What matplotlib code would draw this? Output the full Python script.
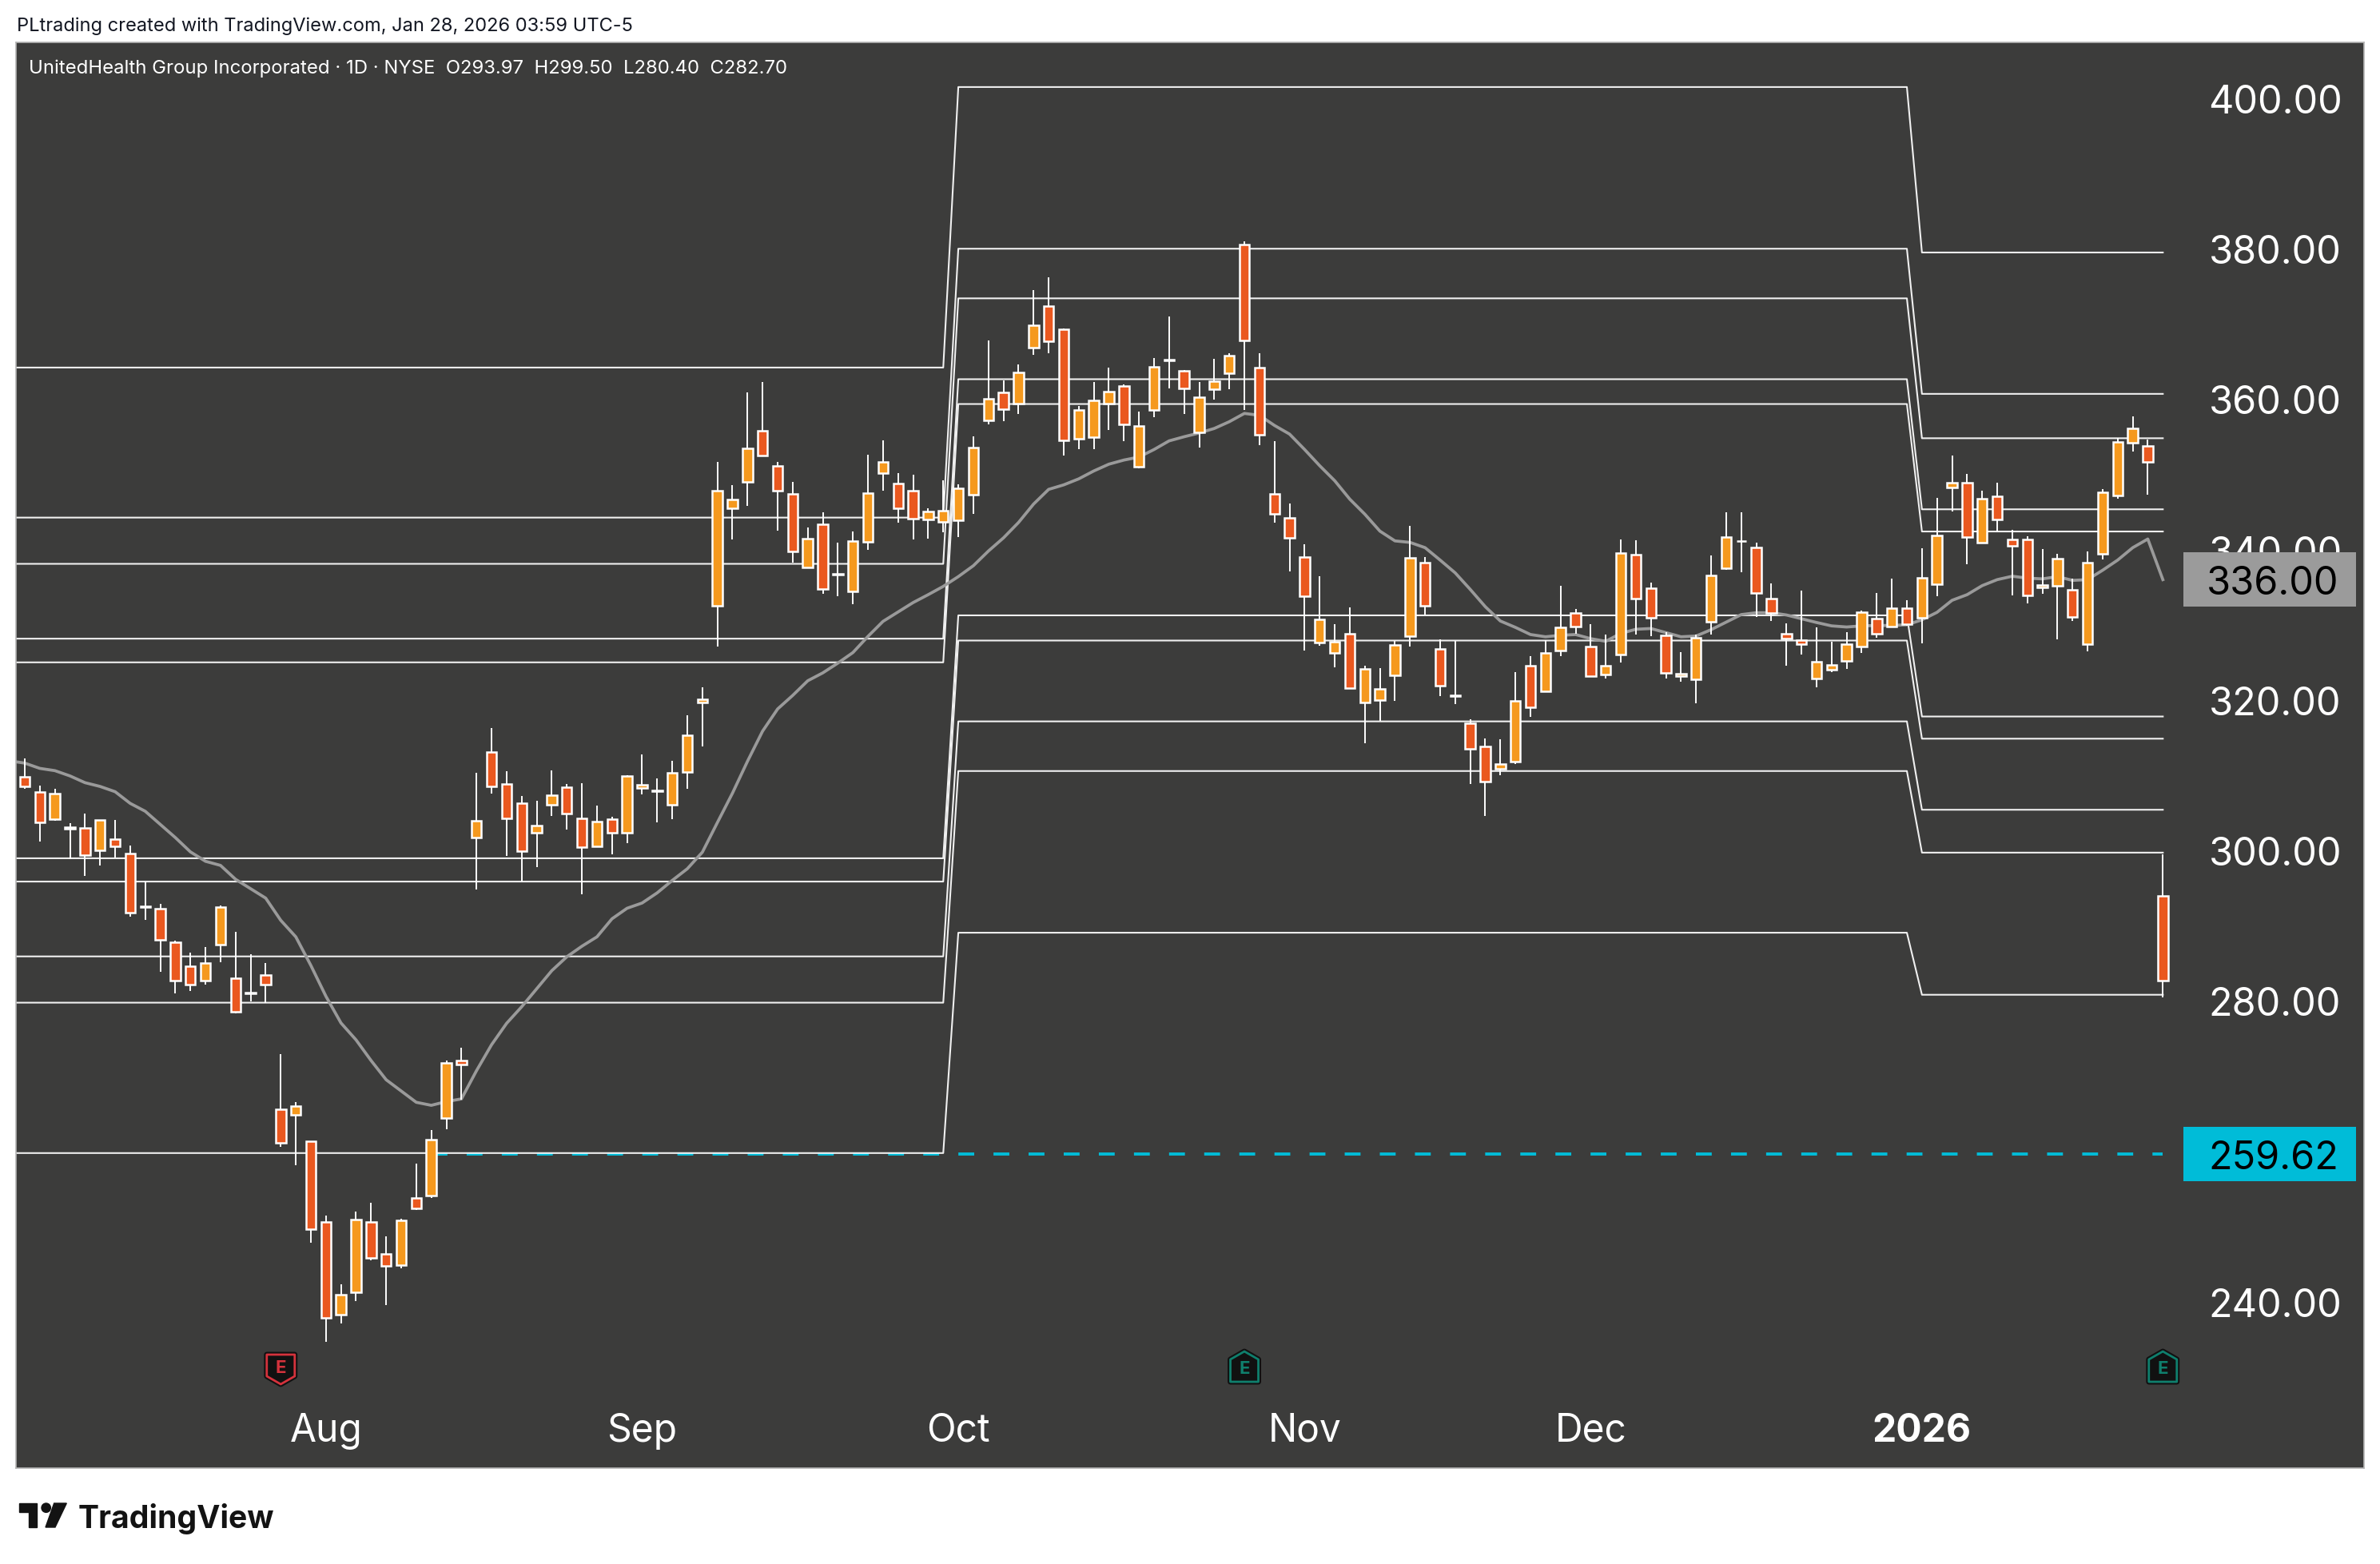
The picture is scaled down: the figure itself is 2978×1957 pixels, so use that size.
import numpy as np
import matplotlib
matplotlib.use('Agg')
import matplotlib.pyplot as plt
from matplotlib.patches import Rectangle, Polygon, Circle
from matplotlib.transforms import blended_transform_factory

plt.rcParams['font.family'] = ['Inter', 'DejaVu Sans']

W, H = 2978, 1958

# daily candles
opens = [309.75, 307.8, 304.2, 303.05, 303.0, 300.0, 301.5, 299.55, 292.6, 292.2,
         287.8, 284.55, 282.7, 287.5, 283.0, 281.1, 283.4, 265.55, 264.8, 261.3,
         250.6, 238.3, 241.25, 250.6, 246.35, 244.85, 253.75, 254.1, 264.4, 272.05,
         301.7, 313.05, 308.85, 306.25, 302.35, 306.05, 308.4, 304.3, 300.55, 304.15,
         302.35, 308.25, 307.9, 306.05, 310.4, 319.65, 332.5, 345.45, 348.95, 355.8,
         351.15, 347.4, 337.65, 343.35, 336.75, 334.45, 341.0, 350.2, 348.75, 347.8,
         344.0, 343.65, 343.9, 347.3, 357.15, 360.9, 359.4, 366.85, 372.35, 369.3,
         354.7, 354.95, 359.4, 361.75, 351.0, 358.55, 365.25, 363.75, 355.55, 361.3,
         363.45, 380.55, 364.2, 347.4, 344.2, 339.0, 327.6, 326.25, 328.8, 319.65,
         319.95, 323.25, 328.45, 338.25, 326.75, 320.65, 316.9, 313.8, 310.85, 311.85,
         324.5, 321.1, 326.55, 331.6, 327.05, 323.35, 326.05, 339.35, 334.9, 328.6,
         323.15, 322.75, 330.35, 337.5, 341.15, 340.3, 333.5, 328.85, 328.0, 322.8,
         324.0, 325.15, 327.15, 330.85, 329.75, 332.25, 330.9, 335.35, 348.3, 348.85,
         340.95, 347.1, 341.35, 341.35, 334.95, 335.15, 334.7, 327.4, 339.45, 347.2,
         354.25, 353.75, 293.97]
highs = [312.2, 308.6, 308.2, 303.6, 304.85, 304.0, 304.0, 300.65, 295.9, 292.9,
         288.0, 286.4, 287.1, 292.7, 289.2, 286.15, 285.0, 272.9, 266.55, 261.35,
         251.45, 242.25, 252.0, 253.15, 248.7, 251.05, 258.4, 262.85, 272.1, 273.8,
         310.35, 316.3, 310.55, 307.2, 306.55, 310.65, 308.8, 308.9, 305.95, 304.45,
         310.0, 312.8, 309.6, 311.9, 318.0, 321.7, 351.65, 348.55, 360.9, 362.3,
         351.65, 348.95, 342.95, 345.0, 340.9, 342.45, 352.65, 354.5, 350.15, 349.9,
         345.5, 349.25, 348.65, 355.05, 367.85, 362.5, 364.65, 374.55, 376.2, 369.35,
         359.05, 362.25, 364.15, 361.95, 358.3, 365.5, 371.0, 363.9, 362.25, 365.35,
         366.15, 381.0, 366.05, 354.45, 346.15, 340.7, 336.45, 330.1, 332.3, 324.55,
         324.2, 327.8, 343.1, 339.0, 328.1, 327.85, 317.45, 314.9, 314.75, 323.75,
         325.8, 327.9, 335.15, 332.05, 330.05, 328.65, 341.35, 341.25, 335.65, 329.05,
         326.35, 328.7, 339.2, 344.95, 344.95, 340.9, 335.45, 330.15, 334.5, 329.7,
         327.7, 329.0, 331.85, 334.2, 336.1, 333.25, 340.2, 346.85, 352.55, 350.05,
         347.8, 348.9, 342.6, 341.8, 340.1, 339.4, 336.1, 339.8, 348.0, 354.85,
         357.75, 354.6, 299.5]
lows = [308.2, 301.2, 303.9, 298.8, 296.6, 298.0, 299.0, 291.15, 290.8, 283.9,
        280.95, 281.25, 282.1, 285.1, 278.3, 279.9, 279.7, 260.6, 258.15, 247.85,
        234.65, 237.05, 240.1, 245.45, 239.55, 244.45, 252.2, 253.75, 262.95, 266.9,
        294.75, 307.5, 299.3, 295.85, 297.8, 304.6, 302.8, 294.2, 300.55, 299.45,
        301.0, 307.4, 303.75, 304.2, 308.2, 313.85, 327.15, 341.35, 345.85, 352.45,
        342.55, 338.3, 337.65, 334.15, 333.85, 332.7, 340.0, 347.85, 343.6, 341.3,
        341.5, 342.35, 341.7, 344.7, 356.6, 357.05, 358.0, 365.85, 366.05, 352.55,
        353.3, 353.4, 355.85, 354.45, 350.85, 357.55, 361.45, 358.0, 353.6, 359.95,
        361.35, 358.6, 353.9, 343.6, 337.1, 326.6, 327.25, 324.3, 321.55, 314.2,
        317.2, 319.9, 327.15, 331.3, 320.55, 319.5, 308.85, 304.6, 310.0, 311.5,
        317.7, 321.0, 325.85, 328.85, 323.15, 322.8, 325.0, 328.7, 328.5, 322.85,
        322.45, 319.6, 328.7, 337.35, 337.0, 331.05, 330.55, 324.6, 326.05, 321.7,
        323.7, 324.1, 326.25, 328.25, 329.6, 329.85, 327.5, 333.8, 345.1, 338.1,
        340.8, 342.4, 333.9, 332.85, 334.15, 328.1, 330.45, 326.5, 338.65, 346.75,
        353.0, 347.3, 280.4]
closes = [308.5, 303.75, 307.5, 302.9, 299.4, 304.0, 300.55, 291.7, 292.5, 288.1,
          282.7, 282.2, 285.0, 292.5, 278.55, 281.0, 282.2, 261.15, 266.0, 249.65,
          237.8, 240.9, 250.9, 245.8, 244.75, 250.75, 252.4, 261.55, 271.75, 271.55,
          303.9, 308.55, 304.25, 299.9, 303.35, 307.35, 304.9, 300.45, 303.85, 302.35,
          309.85, 308.75, 308.0, 310.35, 315.35, 320.1, 347.8, 346.7, 353.45, 352.45,
          347.8, 339.75, 341.45, 334.8, 336.7, 341.15, 347.55, 351.65, 345.5, 344.1,
          345.05, 345.15, 348.15, 353.6, 360.05, 358.7, 363.55, 369.8, 367.7, 354.5,
          358.55, 359.8, 361.05, 356.65, 356.4, 364.3, 365.15, 361.4, 360.25, 362.4,
          365.8, 367.8, 355.25, 344.75, 341.55, 333.75, 330.7, 327.7, 321.55, 324.1,
          321.45, 327.3, 338.9, 332.5, 321.85, 320.55, 313.55, 309.15, 311.45, 319.85,
          319.0, 326.2, 329.6, 329.75, 323.15, 324.5, 339.55, 333.45, 330.9, 323.6,
          323.5, 328.3, 336.6, 341.7, 341.1, 334.2, 331.55, 328.15, 327.4, 325.1,
          324.7, 327.45, 331.7, 328.85, 332.15, 330.05, 336.25, 341.85, 348.85, 341.65,
          346.75, 344.0, 340.45, 333.9, 335.25, 338.8, 331.05, 338.25, 347.6, 354.3,
          356.1, 351.65, 282.7]

# moving average, first value sits left of the first candle
ma = [311.9, 311.6, 310.9, 310.6, 309.9, 309.0, 308.5, 307.8, 306.25, 305.2,
      303.45, 301.7, 299.8, 298.55, 298.0, 296.15, 294.9, 293.65, 290.7, 288.5,
      284.7, 280.6, 277.05, 274.8, 272.05, 269.5, 268.0, 266.5, 266.1, 266.6,
      266.95, 270.7, 274.15, 277.0, 279.2, 281.6, 284.0, 285.85, 287.25, 288.5,
      290.9, 292.3, 293.0, 294.35, 296.0, 297.55, 299.75, 303.7, 307.6, 311.85,
      315.85, 318.8, 320.6, 322.55, 323.6, 324.9, 326.3, 328.45, 330.45, 331.7,
      332.95, 334.0, 335.1, 336.4, 337.85, 339.8, 341.55, 343.6, 346.05, 348.0,
      348.6, 349.4, 350.45, 351.35, 351.9, 352.3, 353.3, 354.45, 355.0, 355.5,
      356.1, 357.0, 358.1, 357.85, 356.5, 355.35, 353.3, 351.15, 349.15, 346.7,
      344.7, 342.45, 341.15, 340.95, 340.25, 338.6, 336.9, 334.7, 332.4, 330.5,
      329.65, 328.7, 328.4, 328.6, 328.7, 328.15, 327.8, 328.85, 329.4, 329.5,
      328.95, 328.4, 328.5, 329.35, 330.35, 331.35, 331.6, 331.6, 331.3, 330.8,
      330.3, 329.85, 329.7, 329.85, 329.9, 329.9, 330.0, 330.65, 331.65, 333.25,
      334.0, 335.2, 336.0, 336.45, 336.2, 336.1, 336.4, 335.9, 336.0, 337.25,
      338.6, 340.25, 341.4, 336.0]

# pivot levels for the three periods, same order in each
levels_a = [364.2, 344.25, 338.1, 328.15, 325.0, 298.95, 295.85, 285.9, 279.75, 259.75]
levels_b = [401.5, 380.0, 373.4, 362.65, 359.35, 331.25, 327.9, 317.15, 310.55, 289.05]
levels_c = [379.5, 360.7, 354.8, 345.35, 342.4, 317.8, 314.85, 305.4, 299.7, 280.8]
step_x = [-1, 61, 62, 125, 126, 142]

price_ticks = [400, 380, 360, 340, 320, 300, 280, 240]
month_pos = [20, 41, 62, 85, 104, 126]
month_names = ['Aug', 'Sep', 'Oct', 'Nov', 'Dec', '2026']
last_ma = 336.00
last_level = 259.62

UP = '#f5991e'
DOWN = '#ea581f'
BG = '#3c3c3b'
CYAN = '#00bcd8'

fig = plt.figure(figsize=(W / 100, H / 100), dpi=100, facecolor='white')
ax = fig.add_axes([20 / W, 1 - 1838 / H, (2958 - 20) / W, (1838 - 54) / H])
ax.set_facecolor(BG)
ax.set_xlim(-0.584, 155.36)
ax.set_ylim(217.86, 407.44)
for s in ax.spines.values():
    s.set_color('#b4b4b4')
    s.set_linewidth(1.2)

x = np.arange(len(opens))
opens = np.array(opens)
closes = np.array(closes)

# dashed level goes under the white pivots
ax.plot([27, 142], [last_level, last_level], color=CYAN, lw=2.8, dashes=(5.1, 6.2), zorder=1.6)

for a, b, c in zip(levels_a, levels_b, levels_c):
    ax.plot(step_x, [a, a, b, b, c, c], color='#f0f0f0', lw=1.5, zorder=2)

ax.plot(np.arange(-1, len(ma) - 1), ma, color='#9a9a9a', lw=2.7, zorder=2.5)

ax.vlines(x, lows, highs, color='white', lw=1.4, zorder=3)
colors = [UP if c > o else DOWN for o, c in zip(opens, closes)]
ax.bar(x, np.abs(closes - opens), bottom=np.minimum(opens, closes), width=0.66,
       color=colors, edgecolor='white', linewidth=1.8, zorder=4)

ax.xaxis.set_ticks(month_pos, month_names)
ax.tick_params(axis='x', length=0, pad=-50.5, labelsize=34.5, labelcolor='white')
ax.get_xticklabels()[-1].set_fontweight('bold')
ax.yaxis.tick_right()
ax.yaxis.set_ticks(price_ticks, ['%.2f' % p for p in price_ticks])
ax.tick_params(axis='y', length=0, pad=-140, labelsize=35, labelcolor='white')

# price tags on the scale
trans = blended_transform_factory(ax.transAxes, ax.transData)
tag_x = (2732 - 20) / (2958 - 20)
tag_w = (2948 - 2732) / (2958 - 20)
lab_x = (2926 - 20) / (2958 - 20)
for price, tag_col in [(last_ma, '#9b9b9b'), (last_level, CYAN)]:
    ax.add_patch(Rectangle((tag_x, price - 3.6), tag_w, 7.2, transform=trans,
                           facecolor=tag_col, edgecolor='none', zorder=10))
    ax.text(lab_x, price, '%.2f' % price, transform=trans, ha='right', va='center_baseline',
            color='black', fontsize=35, zorder=11)


# earnings badges, drawn in pixels around the candle
def badge(idx, top, down, col):
    xc = 31 + 18.84 * idx
    to_ax = lambda px, py: ((px - 20) / 2938, (1838 - py) / 1784)
    if down:
        shape = [(-17.5, 3), (17.5, 3), (17.5, 30), (0, 40), (-17.5, 30)]
    else:
        shape = [(0, 3), (17.5, 13), (17.5, 41), (-17.5, 41), (-17.5, 13)]
    pts = [to_ax(xc + dx, top + dy) for dx, dy in shape]
    ax.add_patch(Polygon(pts, closed=True, transform=ax.transAxes, facecolor='#111111',
                         edgecolor='#111111', lw=5, joinstyle='round', zorder=6))
    ax.add_patch(Polygon(pts, closed=True, transform=ax.transAxes, facecolor='#111111',
                         edgecolor=col, lw=2, joinstyle='round', zorder=7))
    tx, ty = to_ax(xc, top + (19 if down else 24))
    ax.text(tx, ty, 'E', transform=ax.transAxes, color=col, fontsize=16, fontweight='bold',
            ha='center', va='center', zorder=8)


badge(17, 1693, True, '#d5323c')
badge(81, 1689, False, '#0f7f6d')
badge(142, 1689, False, '#0f7f6d')

fig.text(21 / W, 1 - 33 / H, 'PLtrading created with TradingView.com, Jan 28, 2026 03:59 UTC-5',
         fontsize=17, color='#131722', va='center', ha='left')
ax.text(16 / 2938, 1 - 32 / 1784, 'UnitedHealth Group Incorporated · 1D · NYSE  O293.97  H299.50  L280.40  C282.70',
        transform=ax.transAxes, fontsize=17.2, color='white', va='center', ha='left')

# footer logo
logo = fig.add_axes([0, 0, 1, 1], facecolor='none')
logo.set_xlim(0, W)
logo.set_ylim(H, 0)
logo.axis('off')
logo.add_patch(Polygon([(24.3, 1882), (45.7, 1882), (45.7, 1912), (35.7, 1912), (35.7, 1893.3), (24.3, 1893.3)],
                       closed=True, color='#131313'))
logo.add_patch(Circle((57.7, 1887.7), 5.7, color='#131313'))
logo.add_patch(Polygon([(67.7, 1882), (83.3, 1882), (69, 1912), (57, 1912)], closed=True, color='#131313'))
logo.text(98, 1912, 'TradingView', fontsize=28.2, fontweight='bold', color='#131313',
          va='baseline', ha='left')

fig.savefig('out.png', dpi=100, facecolor='white')
